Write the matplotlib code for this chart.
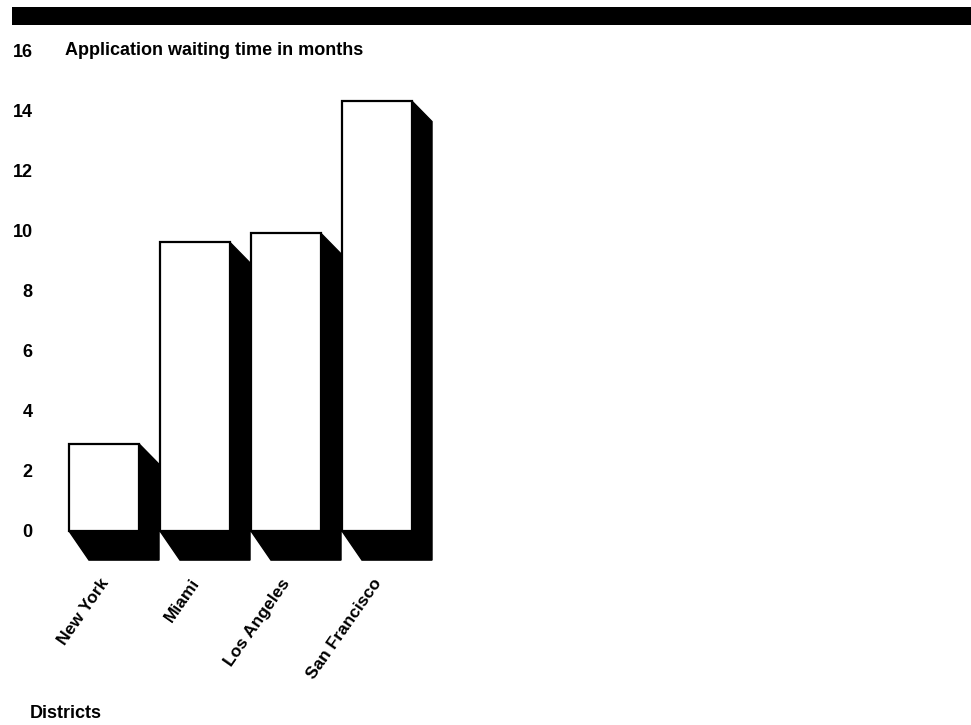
import matplotlib
matplotlib.use('Agg')
import matplotlib.pyplot as plt
from matplotlib.patches import Polygon, Rectangle
from matplotlib.transforms import ScaledTranslation

plt.rcParams['font.family'] = ['Liberation Sans', 'DejaVu Sans']
plt.rcParams['font.weight'] = 'bold'

districts = ['New York', 'Miami', 'Los Angeles', 'San Francisco']
waiting = [2.9, 9.6, 9.9, 14.3]
yticks = [0, 2, 4, 6, 8, 10, 12, 14, 16]

fig = plt.figure(figsize=(9.71, 7.25), dpi=100)
ax = fig.add_axes([37 / 971, 0.2179, 922 / 971, 0.7214])

width = 0.77
dx = 0.22          # shadow offset to the right
dy_top = 0.68      # shadow drop at the top corner
dy_bot = 0.97      # shadow drop at the base

for i, v in enumerate(waiting):
    x0 = i - width / 2
    x1 = i + width / 2
    shadow = Polygon([(x0, 0), (x0 + dx, -dy_bot), (x1 + dx, -dy_bot),
                      (x1 + dx, v - dy_top), (x1, v)],
                     closed=True, facecolor='black', edgecolor='black', zorder=1)
    ax.add_patch(shadow)
ax.bar(range(len(waiting)), waiting, width=width, color='white',
       edgecolor='black', linewidth=1.6, zorder=2)

ax.set_xlim(-0.736, 9.396)
ax.set_ylim(-1.2, 16.2)
ax.set_yticks(yticks)
ax.set_yticklabels([str(t) for t in yticks], fontsize=13, fontweight='bold')
ax.set_xticks(range(len(districts)))
ax.set_xticklabels(districts, rotation=55, ha='right', va='center_baseline',
                   rotation_mode='anchor', fontsize=12.5, fontweight='bold')
# labels end a little left of the bar centres
shift = ScaledTranslation(-6 / 100, 1 / 100, fig.dpi_scale_trans)
for lab in ax.get_xticklabels():
    lab.set_transform(lab.get_transform() + shift)
ax.tick_params(axis='both', length=0)
ax.tick_params(axis='x', pad=9)
ax.tick_params(axis='y', pad=3)
for s in ax.spines.values():
    s.set_visible(False)

ax.text(0.03, 16, 'Application waiting time in months', transform=ax.get_yaxis_transform(),
        fontsize=13, fontweight='bold', va='center', ha='left')

fig.patches.append(Rectangle((12 / 971, 1 - 25 / 725), 1, 18 / 725,
                             transform=fig.transFigure, facecolor='black',
                             edgecolor='none'))
fig.text(30 / 971, 12 / 725, 'Districts', fontsize=13, fontweight='bold',
         va='center', ha='left')

fig.savefig('out.png', dpi=100)
